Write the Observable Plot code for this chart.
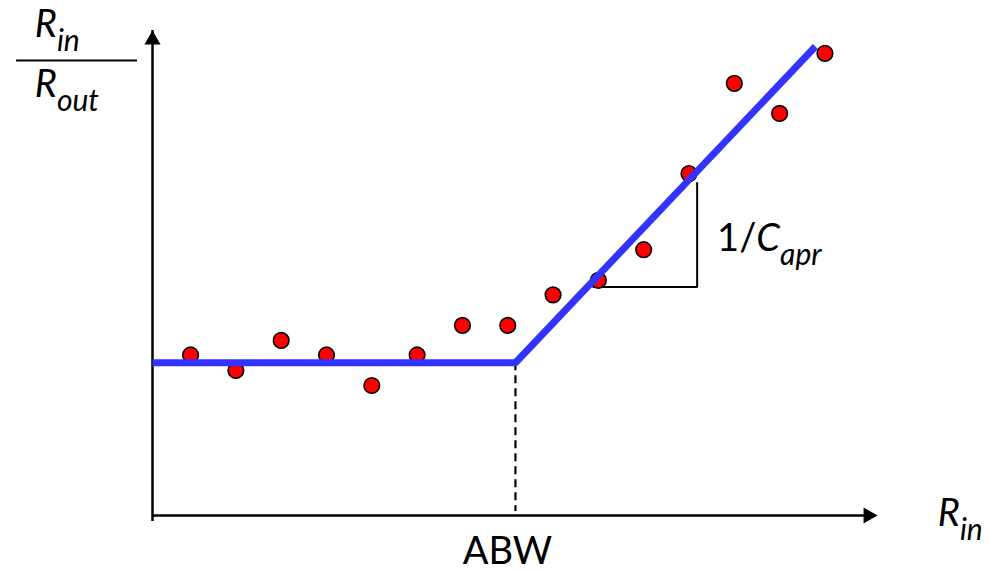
<!DOCTYPE html>
<html>
<head>
<meta charset="utf-8">
<script src="https://cdn.jsdelivr.net/npm/d3@7"></script>
<script src="https://cdn.jsdelivr.net/npm/@observablehq/plot@0.6"></script>
<style>
  html, body { margin: 0; padding: 0; background: #fff; }
  #chart svg { display: block; }
</style>
</head>
<body>
<div id="chart"></div>
<script>
// ---- data (schematic units) ----
const pointX = [1, 2, 3, 4, 5, 6, 7, 8, 9, 10, 11, 12, 13, 14, 15];
const pointY = [3.31, 2.99, 3.61, 3.31, 2.68, 3.31, 3.92, 3.92, 4.55, 4.85, 5.48, 7.05, 8.91, 8.29, 9.53];

const axisX = [0.16, 16.16];   // x axis from origin to arrow tip
const axisY = [0, 10];         // y axis from origin to arrow tip

const abw = 8.17;              // knee (ABW)
const fitX = [0.16, 8.17, 14.79];
const fitY = [3.15, 3.15, 9.67];

const slopeX = [9.87, 12.18, 12.18];
const slopeY = [4.71, 4.71, 6.87];

const labelText = ["R_in", "R_out", "R_in", "ABW", "1/C_apr"];
const labelX = [-2.44, -2.44, 17.49, 8.17, 12.62];
const labelY = [9.86, 8.62, -0.21, -0.99, 5.46];
const labelAnchor = ["start", "start", "start", "middle", "start"];
const labelDx = [0, 0, 0, -8, 0];

const fracBarX = [-2.84, -0.17];
const fracBarY = 9.38;

// ---- tables ----
const points = pointX.map((x, i) => ({x, y: pointY[i]}));
const fit = fitX.map((x, i) => ({x, y: fitY[i]}));
const slope = slopeX.map((x, i) => ({x, y: slopeY[i]}));
const labels = labelText.map((t, i) => ({t, x: labelX[i], y: labelY[i], a: labelAnchor[i], dx: labelDx[i]}));

const FONT = "Lato, 'Open Sans', sans-serif";
const lblMarks = labels.map(d => Plot.text([d], {
  x: "x", y: "y", text: "t", textAnchor: d.a, lineAnchor: "bottom",
  dx: d.dx, fontSize: 38, fill: "black"
}));

const plot = Plot.plot({
  width: 990,
  height: 571,
  marginLeft: 152,
  marginRight: 113,
  marginTop: 30,
  marginBottom: 56,
  x: {domain: axisX, axis: null},
  y: {domain: axisY, axis: null},
  style: {fontFamily: FONT, background: "white", overflow: "visible"},
  marks: [
    // axes
    Plot.ruleY([axisY[0]], {x1: axisX[0], x2: axisX[1], stroke: "black", strokeWidth: 2.5, insetRight: 6}),
    Plot.ruleX([axisX[0]], {y1: axisY[0], y2: axisY[1], stroke: "black", strokeWidth: 2.5, insetTop: 6}),
    Plot.dot([{x: axisX[0], y: axisY[1]}], {x: "x", y: "y", symbol: "triangle", r: 6, fill: "black", stroke: "none", dy: 9.3}),
    Plot.dot([{x: axisX[1], y: axisY[0]}], {x: "x", y: "y", symbol: "triangle", r: 6, fill: "black", stroke: "none", rotate: 90, dx: -9.3}),
    // ABW dashed guide
    Plot.ruleX([abw], {y1: fitY[1], y2: axisY[0], stroke: "black", strokeWidth: 2.2, strokeDasharray: "8,5", insetBottom: 4}),
    // slope triangle
    Plot.line(slope, {x: "x", y: "y", stroke: "black", strokeWidth: 2, strokeLinejoin: "miter", strokeLinecap: "butt"}),
    // data points
    Plot.dot(points, {x: "x", y: "y", r: 7.8, fill: "#ff0000", stroke: "black", strokeWidth: 1.6}),
    // fitted piecewise line
    Plot.line(fit, {x: "x", y: "y", stroke: "#3333ff", strokeWidth: 7, strokeLinejoin: "miter", strokeLinecap: "butt"}),
    // fraction bar of y label
    Plot.ruleY([fracBarY], {x1: fracBarX[0], x2: fracBarX[1], stroke: "black", strokeWidth: 2}),
    ...lblMarks
  ]
});

// rich text: italic variable with subscript
d3.select(plot).selectAll("text").each(function () {
  const t = this.textContent;
  const m = t.match(/^([^A-Za-z]*)([A-Za-z]+)_(\w+)$/);
  if (!m) return;
  const el = d3.select(this);
  el.text(null);
  if (m[1]) el.append("tspan").text(m[1]);
  el.append("tspan").attr("font-style", "italic").text(m[2]);
  el.append("tspan").attr("font-style", "italic").attr("font-size", 30).attr("dy", 14).text(m[3]);
});

document.getElementById("chart").appendChild(plot);
</script>
</body>
</html>
